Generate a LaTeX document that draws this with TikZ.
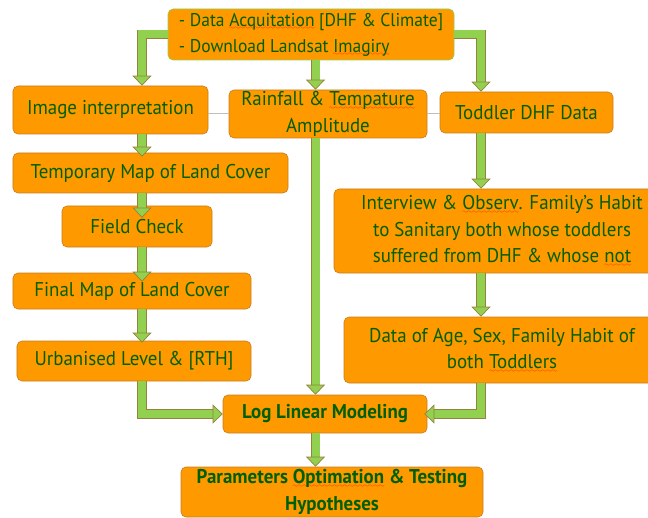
\documentclass[tikz,border=0pt]{standalone}
\usepackage{fontspec}
\setmainfont{PT Sans}[FakeStretch=0.95]
\usetikzlibrary{arrows.meta,calc}
\definecolor{boxfill}{RGB}{255,153,0}
\definecolor{boxedge}{RGB}{200,125,30}
\definecolor{topedge}{RGB}{146,208,80}
\definecolor{txt}{RGB}{0,96,0}
\definecolor{arrowfill}{RGB}{146,208,80}
\definecolor{arrowedge}{RGB}{150,130,60}
\definecolor{linkgray}{RGB}{190,190,190}
\font\wavefont=lasy6
\newsavebox\wavebox
\newcommand\redwave[1]{\sbox\wavebox{#1}\rlap{\lower3.5pt\hbox to \wd\wavebox{\color{red}\xleaders\hbox{\wavefont\char58}\hfil}}\usebox\wavebox}
\tikzset{
  box/.style={draw=boxedge, fill=boxfill, rounded corners=5bp, line width=0.6bp,
    inner sep=0pt, text=txt, align=center, font=\fontsize{20}{26.5}\selectfont},
  blk/.style={draw=arrowfill, line width=8bp,
    preaction={draw=arrowedge, line width=9.4bp, -, shorten >=10bp},
    -{Triangle[length=10bp,width=19bp,line width=0.7bp,fill=arrowfill,color=arrowedge]}},
  link/.style={draw=linkgray, line width=1bp}
}
\begin{document}
\begin{tikzpicture}[x=1bp,y=-1bp]
\useasboundingbox (0,0) rectangle (648,518);
\clip (0,0) rectangle (648,518);
\coordinate (lc) at (142,0);
\coordinate (mc) at (315.5,0);
\coordinate (rc) at (481,0);
\node[box, draw=topedge, align=left, minimum width=286bp, minimum height=51bp, font=\fontsize{18.5}{26}\selectfont] (top) at (311,34.5)
  {- Data \redwave{Acquitation} [DHF \& Climate]\\- Download Landsat \redwave{Imagiry}};
\node[box, minimum width=195bp, minimum height=48bp] (img) at (110.5,110) {Image interpretation};
\node[box, minimum width=198bp, minimum height=48bp] (rain) at (328,114) {Rainfall \& \redwave{Tempature}\\Amplitude};
\node[box, minimum width=173bp, minimum height=41bp] (tod) at (526.5,112.5) {Toddler DHF Data};
\node[box, minimum width=275bp, minimum height=40bp] (tmp) at (150.5,173) {Temporary Map of Land Cover};
\node[box, minimum width=150bp, minimum height=41bp] (fld) at (137,226.5) {Field Check};
\node[box, minimum width=238bp, minimum height=36bp] (fin) at (132,291) {Final Map of Land Cover};
\node[box, minimum width=234bp, minimum height=40bp] (urb) at (134,361) {Urbanised Level \& [RTH]};
\node[box, minimum width=336bp, minimum height=84bp] (int) at (502,231)
  {Interview \& \redwave{Observ}. Family's Habit\\to Sanitary both whose toddlers\\suffered from DHF \& whose \redwave{not}};
\node[box, minimum width=316bp, minimum height=66bp] (dat) at (502,350)
  {Data of Age, Sex, Family Habit of\\both \redwave{Toddlers}};
\node[box, minimum width=204bp, minimum height=38bp, font=\fontsize{20}{26.5}\selectfont\bfseries] (log) at (325,414) {Log Linear Modeling};
\node[box, minimum width=302bp, minimum height=50bp, font=\fontsize{20}{26.5}\selectfont\bfseries] (par) at (332,492)
  {Parameters \redwave{Optimation} \& Testing\\Hypotheses};
\draw[link] (rain.west -| img.east) -- (rain.west);
\draw[link] (rain.east) -- (rain.east -| tod.west);
\draw[blk] (top.west) -| (img.north -| lc);
\draw[blk] (top.east) -| (tod.north -| rc);
\draw[blk] (top.south -| mc) -- (rain.north -| mc);
\draw[blk] (rain.south -| mc) -- (log.north -| mc);
\draw[blk] (log.south -| mc) -- (par.north -| mc);
\draw[blk] (img.south -| lc) -- ($(tmp.north -| lc)+(0,4)$);
\draw[blk] (tmp.south -| lc) -- ($(fld.north -| lc)+(0,12)$);
\draw[blk] (fld.south -| lc) -- ($(fin.north -| lc)+(0,9)$);
\draw[blk] (fin.south -| lc) -- ($(urb.north -| lc)+(0,2)$);
\draw[blk] (urb.south -| lc) |- (log.west);
\draw[blk] (dat.south -| rc) |- ($(log.east)+(-3,0)$);
\draw[blk] (tod.south -| rc) -- (int.north -| rc);
\draw[blk] (int.south -| rc) -- (dat.north -| rc);
\end{tikzpicture}
\end{document}
